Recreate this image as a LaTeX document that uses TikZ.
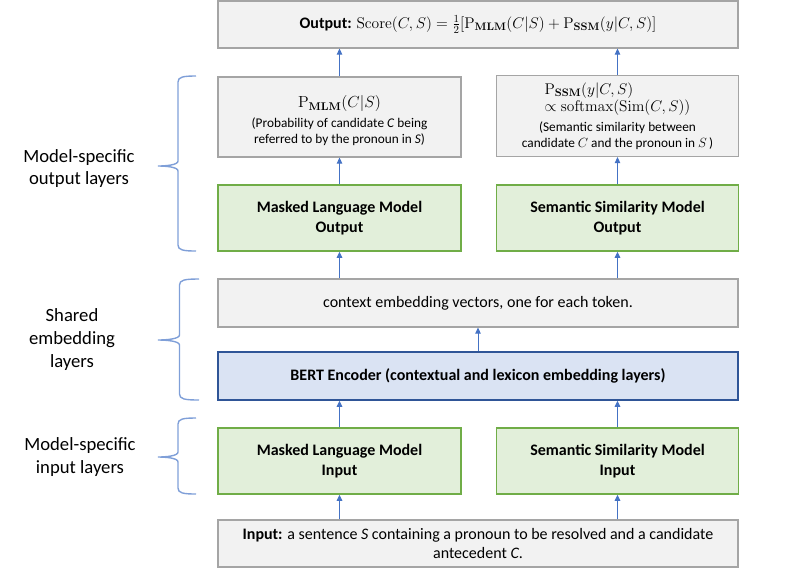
\RequirePackage{fix-cm}
\documentclass[tikz,border=0pt]{standalone}
\usepackage[no-math]{fontspec}
\setmainfont{Carlito}
\usetikzlibrary{arrows.meta}
\definecolor{grayfill}{HTML}{F2F2F2}
\definecolor{graydraw}{HTML}{A5A5A5}
\definecolor{greenfill}{HTML}{E2EFDA}
\definecolor{greendraw}{HTML}{70AD47}
\definecolor{bluefill}{HTML}{DAE3F3}
\definecolor{bluedraw}{HTML}{2F5597}
\definecolor{arrowc}{HTML}{4472C4}
\definecolor{bracec}{HTML}{7F9FD8}
\newcommand\myboxfont{\fontsize{16}{19.5}\selectfont}
\newcommand\mymathfont{\fontsize{15.5}{19}\selectfont}
\newcommand\mysmallfont{\fontsize{13.3}{16}\selectfont}
\newcommand\mylabfont{\fontsize{18.67}{22.7}\selectfont}
\newcommand\drawmybrace[6]{%
  % #1 arm end x, #2 spine x, #3 tip x, #4 top y, #5 tip y, #6 bottom y
  \draw[bracel] (#1,#4) .. controls ({#2+5},#4) and (#2,{#4+1}) .. (#2,{#4+6})
    -- (#2,{#5-5}) .. controls (#2,{#5-1}) and ({#3+8},#5) .. (#3,#5)
    .. controls ({#3+8},#5) and (#2,{#5+1}) .. (#2,{#5+5})
    -- (#2,{#6-6}) .. controls (#2,{#6-1}) and ({#2+5},#6) .. (#1,#6);}
\tikzset{
  graybox/.style={draw=graydraw, fill=grayfill, line width=1.2pt, inner sep=0pt, align=center, font=\myboxfont},
  greenbox/.style={draw=greendraw, fill=greenfill, line width=1.5pt, inner sep=0pt, align=center, font=\myboxfont\bfseries},
  bluebox/.style={draw=bluedraw, fill=bluefill, line width=1.5pt, inner sep=0pt, align=center, font=\myboxfont\bfseries},
  arr/.style={draw=arrowc, line width=1pt, -{Triangle[length=6pt,width=5.5pt]}},
  bracel/.style={draw=bracec, line width=1.4pt},
  lab/.style={font=\mylabfont, align=center, inner sep=0pt},
}
\begin{document}
\begin{tikzpicture}[x=1pt,y=-1pt]
\useasboundingbox (0,0) rectangle (808,574);
% boxes
\node[graybox, minimum width=520, minimum height=47] (out) at (478,24.5)
  {\textbf{Output:} {\mymathfont$\mathrm{Score}(C,S)=\frac{1}{2}\bigl[\mathrm{P}_{\mathbf{MLM}}(C|S)+\mathrm{P}_{\mathbf{SSM}}(y|C,S)\bigr]$}};
\node[graybox, font=\mysmallfont, minimum width=243, minimum height=80] (pmlm) at (339.5,117)
  {\rule{0pt}{20pt}{\myboxfont$\mathrm{P}_{\mathbf{MLM}}(C|S)$}\\[4pt](Probability of candidate \textit{C} being\\referred to by the pronoun in \textit{S})};
\node[graybox, font=\mysmallfont, minimum width=242, minimum height=81] (pssm) at (617.5,116)
  {{\mymathfont\renewcommand\arraystretch{0.92}\begin{tabular}{@{}l@{}}$\mathrm{P}_{\mathbf{SSM}}(y|C,S)$\\$\propto\mathrm{softmax}\bigl(\mathrm{Sim}(C,S)\bigr)$\end{tabular}}\\[4pt](Semantic similarity between\\candidate $C$ and the pronoun in $S$\,)};
\node[greenbox, minimum width=243, minimum height=66] (mlmout) at (339.5,218) {Masked Language Model\\Output};
\node[greenbox, minimum width=242, minimum height=66] (ssmout) at (617.5,218) {Semantic Similarity Model\\Output};
\node[graybox, minimum width=520, minimum height=48] (ctx) at (478,303) {context embedding vectors, one for each token.};
\node[bluebox, minimum width=520, minimum height=48] (bert) at (478,376) {BERT Encoder (contextual and lexicon embedding layers)};
\node[greenbox, minimum width=243, minimum height=66] (mlmin) at (339.5,461) {Masked Language Model\\Input};
\node[greenbox, minimum width=242, minimum height=66] (ssmin) at (617.5,461) {Semantic Similarity Model\\Input};
\node[graybox, minimum width=520, minimum height=47] (inp) at (478,543.5)
  {\textbf{Input:} a sentence \textit{S} containing a pronoun to be resolved and a candidate\\antecedent \textit{C}.};
% arrows
\draw[arr] (inp.north -| mlmin.south) -- (mlmin.south);
\draw[arr] (inp.north -| ssmin.south) -- (ssmin.south);
\draw[arr] (mlmin.north) -- (bert.south -| mlmin.north);
\draw[arr] (ssmin.north) -- (bert.south -| ssmin.north);
\draw[arr] (bert.north) -- (ctx.south);
\draw[arr] (ctx.north -| mlmout.south) -- (mlmout.south);
\draw[arr] (ctx.north -| ssmout.south) -- (ssmout.south);
\draw[arr] (mlmout.north) -- (pmlm.south);
\draw[arr] (ssmout.north) -- (pssm.south);
\draw[arr] (pmlm.north) -- (out.south -| pmlm.north);
\draw[arr] (pssm.north) -- (out.south -| pssm.north);
% braces
\drawmybrace{196}{178}{158}{76}{166}{251}
\drawmybrace{199}{179.5}{158}{279}{340}{400}
\drawmybrace{196}{178}{158}{418}{457}{494}
% labels
\node[lab] (lab1) at (79,168.5) {Model-specific\\output layers};
\node[lab] (lab2) at (72,339.5) {Shared\\embedding\\layers};
\node[lab] (lab3) at (80,457) {Model-specific\\input layers};
\end{tikzpicture}
\end{document}
